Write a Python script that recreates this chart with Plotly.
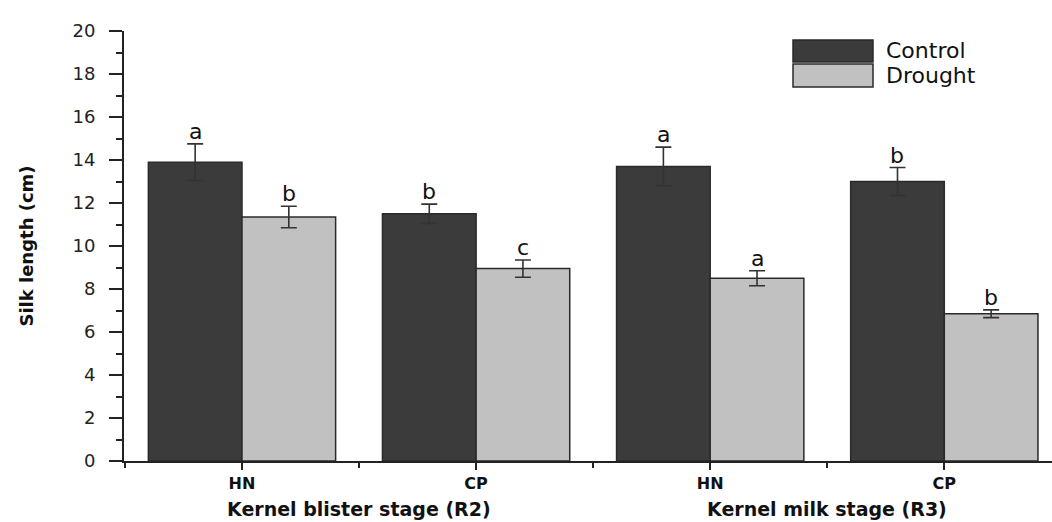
import plotly.graph_objects as go

# ---- data ----
categories = ["HN", "CP", "HN", "CP"]
stages = ["Kernel blister stage (R2)", "Kernel milk stage (R3)"]
series_names = ["Control", "Drought"]
control_vals = [13.9, 11.5, 13.7, 13.0]
control_err = [0.85, 0.45, 0.9, 0.65]
drought_vals = [11.35, 8.95, 8.5, 6.85]
drought_err = [0.5, 0.4, 0.35, 0.18]
control_letters = ["a", "b", "a", "b"]
drought_letters = ["b", "c", "a", "b"]

x_pos = list(range(len(categories)))
colors = ["#3b3b3b", "#c1c1c1"]
FONT = "DejaVu Sans"

fig = go.Figure()
for name, vals, errs, col in [
    (series_names[0], control_vals, control_err, colors[0]),
    (series_names[1], drought_vals, drought_err, colors[1]),
]:
    fig.add_trace(go.Bar(
        x=x_pos, y=vals, name=name,
        marker=dict(color=col, line=dict(color="#2a2a2a", width=1.5)),
        error_y=dict(type="data", array=errs, visible=True,
                     color="#333333", thickness=1.6, width=8),
        showlegend=False,
    ))

annotations = []
# significance letters
for i in x_pos:
    for off, vals, errs, letters in [
        (-0.2, control_vals, control_err, control_letters),
        (0.2, drought_vals, drought_err, drought_letters),
    ]:
        annotations.append(dict(
            x=i + off, y=vals[i] + errs[i], xref="x", yref="y",
            text=letters[i], showarrow=False, yanchor="bottom", yshift=-2,
            font=dict(family=FONT, size=22, color="#111111"),
        ))
# stage labels
for k, st in enumerate(stages):
    annotations.append(dict(
        x=2 * k + 0.5, y=-(509 - 461) / 430, xref="x", yref="paper",
        text=st, showarrow=False, yanchor="middle",
        font=dict(family=FONT, size=19, color="#111111", weight="bold"),
    ))

# legend drawn as swatches + text
shapes = []
leg_x0, leg_x1 = 793, 873
leg_rows = [(40, 62), (64, 87)]
W, H = 1052, 522
for (y0, y1), name, col in zip(leg_rows, series_names, colors):
    shapes.append(dict(
        type="rect", xref="paper", yref="paper",
        x0=(leg_x0 - 124) / (W - 124), x1=(leg_x1 - 124) / (W - 124),
        y0=(461 - y1) / 430, y1=(461 - y0) / 430,
        fillcolor=col, line=dict(color="#2a2a2a", width=1.5),
    ))
    annotations.append(dict(
        x=(884 - 124) / (W - 124), y=(461 - (y0 + y1) / 2) / 430,
        xref="paper", yref="paper", text=name, showarrow=False,
        xanchor="left", yanchor="middle",
        font=dict(family=FONT, size=22, color="#111111"),
    ))

fig.update_layout(
    width=W, height=H,
    margin=dict(l=124, r=0, t=31, b=61),
    paper_bgcolor="white", plot_bgcolor="white",
    barmode="group", bargap=0.2, bargroupgap=0,
    annotations=annotations, shapes=shapes,
    xaxis=dict(
        range=[-0.504, 3.46], tickmode="array", tickvals=x_pos, ticktext=categories,
        showline=True, linecolor="#222222", linewidth=2,
        ticks="outside", ticklen=7, tickwidth=2, tickcolor="#222222",
        tickfont=dict(family=FONT, size=16, color="#111111", weight="bold"),
        minor=dict(tickmode="array", tickvals=[-0.5, 0.5, 1.5, 2.5, 3.5],
                   ticks="outside", ticklen=5, tickwidth=2, tickcolor="#222222"),
        showgrid=False, zeroline=False,
    ),
    yaxis=dict(
        range=[0, 20], dtick=2, tick0=0,
        showline=True, linecolor="#222222", linewidth=2,
        ticks="outside", ticklen=13, tickwidth=2, tickcolor="#222222",
        tickfont=dict(family=FONT, size=18, color="#222222"),
        ticklabelstandoff=10,
        minor=dict(dtick=1, ticks="outside", ticklen=6, tickwidth=2, tickcolor="#222222"),
        showgrid=False, zeroline=False,
        title=dict(text="Silk length (cm)", standoff=34,
                   font=dict(family=FONT, size=18, color="#111111", weight="bold")),
    ),
)

fig.write_html("out.html")
